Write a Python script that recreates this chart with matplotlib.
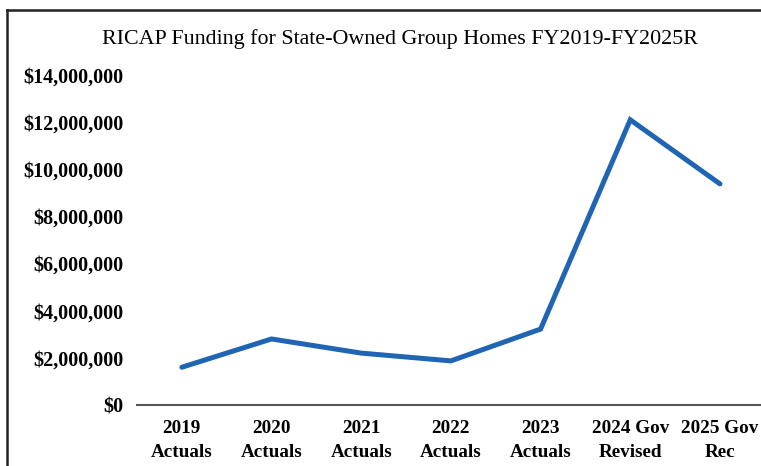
import matplotlib.pyplot as plt
from matplotlib.lines import Line2D
from matplotlib.ticker import FuncFormatter

categories = ['2019\nActuals', '2020\nActuals', '2021\nActuals', '2022\nActuals',
              '2023\nActuals', '2024 Gov\nRevised', '2025 Gov\nRec']
funding = [1600000, 2800000, 2200000, 1870000, 3220000, 12100000, 9380000]

plt.rcParams['font.family'] = ['Liberation Serif', 'DejaVu Serif']

fig = plt.figure(figsize=(7.61, 4.66), dpi=100)
ax = fig.add_axes([0.180, 0.131, 0.825, 0.708])

x = range(len(categories))
ax.plot(x, funding, color='#1f65b4', linewidth=3.6, solid_capstyle='round',
        solid_joinstyle='miter')

ax.set_xlim(-0.5, len(categories) - 0.5)
ax.set_ylim(0, 14000000)
ax.set_yticks(range(0, 14000001, 2000000))
ax.yaxis.set_major_formatter(FuncFormatter(lambda v, p: f'${v:,.0f}'))
ax.set_xticks(list(x))
ax.set_xticklabels(categories, fontsize=13.8, fontweight='bold', linespacing=1.5)
for lbl in ax.get_yticklabels():
    lbl.set_fontsize(14.5)
    lbl.set_fontweight('bold')

for side in ['top', 'right', 'left']:
    ax.spines[side].set_visible(False)
ax.spines['bottom'].set_color('#555555')
ax.spines['bottom'].set_linewidth(1.5)
ax.tick_params(axis='both', length=0)
ax.tick_params(axis='y', pad=10)
ax.tick_params(axis='x', pad=11)

fig.text(0.526, 0.916, 'RICAP Funding for State-Owned Group Homes FY2019-FY2025R',
         ha='center', va='center', fontsize=15.8)

# scanned frame (top and left edges only visible)
top = 1 - 10 / 466
left = 7 / 761
fig.add_artist(Line2D([left, 1.0], [top, top], transform=fig.transFigure,
                      color='#222222', linewidth=1.8))
fig.add_artist(Line2D([left, left], [0.0, top], transform=fig.transFigure,
                      color='#222222', linewidth=1.8))

fig.savefig('out.png', dpi=100)
plt.close(fig)
